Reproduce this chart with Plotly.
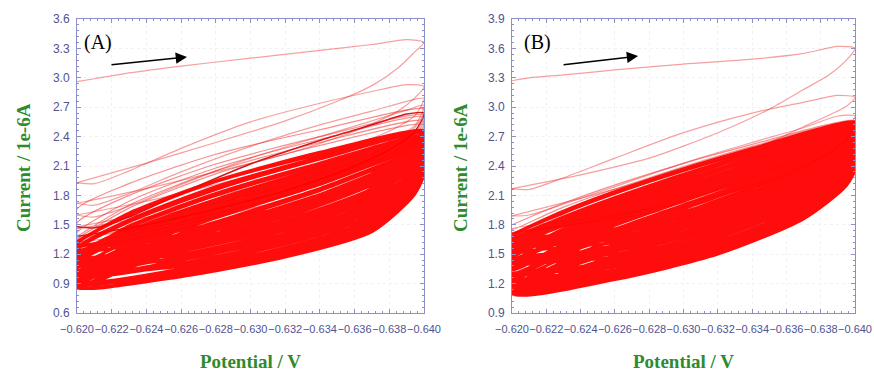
import plotly.graph_objects as go

# Potentials (V) at which each sweep is sampled
V_OUTER_FWD = [-0.620, -0.621, -0.623, -0.626, -0.630, -0.634, -0.637, -0.639, -0.640]
V_OUTER_REV = [-0.6395, -0.6385, -0.637, -0.635, -0.632, -0.628, -0.624, -0.620]
V_BAND_FWD = [-0.620, -0.623, -0.628, -0.634, -0.640]
V_BAND_REV = [-0.6395, -0.637, -0.632, -0.626, -0.620]

# ---------------- Panel A: currents in 1e-6 A ----------------
# first cycles (forward / reverse sweeps)
A_OUTER_FWD = [
    [2.96, 2.99, 3.05, 3.12, 3.20, 3.28, 3.34, 3.39, 3.36],
    [1.93, 1.92, 2.05, 2.28, 2.55, 2.74, 2.86, 2.93, 2.91],
    [1.72, 1.70, 1.82, 2.04, 2.30, 2.52, 2.66, 2.76, 2.79],
    [1.60, 1.58, 1.69, 1.91, 2.18, 2.40, 2.56, 2.67, 2.72],
    [1.48, 1.47, 1.58, 1.82, 2.12, 2.36, 2.52, 2.63, 2.64],
]
A_OUTER_REV = [
    [3.27, 3.10, 2.92, 2.76, 2.56, 2.34, 2.13, 1.93],
    [2.80, 2.66, 2.53, 2.39, 2.22, 2.04, 1.87, 1.72],
    [2.62, 2.50, 2.38, 2.25, 2.09, 1.91, 1.74, 1.60],
    [2.52, 2.40, 2.28, 2.14, 1.97, 1.79, 1.62, 1.48],
    [2.46, 2.32, 2.18, 2.03, 1.85, 1.66, 1.50, 1.38],
]
A_OUTER_STYLE = ["light", "light", "light", "light", "dark"]

# transition cycles just above the dense band
A_MID_FWD = [
    [1.38, 1.70, 2.05, 2.34, 2.56],
    [1.42, 1.74, 2.08, 2.37, 2.60],
    [1.36, 1.67, 2.02, 2.31, 2.52],
    [1.52, 1.80, 2.12, 2.40, 2.62],
    [1.66, 1.92, 2.22, 2.47, 2.68],
]
A_MID_REV = [
    [2.36, 2.08, 1.76, 1.50, 1.34],
    [2.40, 2.12, 1.80, 1.53, 1.36],
    [2.33, 2.05, 1.72, 1.46, 1.30],
    [2.44, 2.16, 1.84, 1.58, 1.40],
    [2.50, 2.22, 1.90, 1.64, 1.46],
]

# steady cycles forming the dense band
A_BAND_FWD = [
    [1.33, 1.62, 1.95, 2.24, 2.46],
    [1.20, 1.49, 1.82, 2.13, 2.40],
    [1.30, 1.60, 1.94, 2.22, 2.45],
    [1.08, 1.36, 1.68, 2.00, 2.32],
    [1.26, 1.55, 1.89, 2.19, 2.43],
    [0.94, 1.19, 1.50, 1.85, 2.21],
    [1.18, 1.47, 1.80, 2.11, 2.39],
    [1.03, 1.30, 1.62, 1.95, 2.29],
    [1.24, 1.53, 1.86, 2.17, 2.43],
    [0.88, 1.10, 1.41, 1.75, 2.12],
    [1.16, 1.44, 1.76, 2.08, 2.37],
    [1.00, 1.27, 1.59, 1.92, 2.27],
    [1.12, 1.41, 1.73, 2.05, 2.35],
    [0.92, 1.16, 1.47, 1.81, 2.18],
    [1.10, 1.38, 1.71, 2.03, 2.34],
    [0.99, 1.25, 1.57, 1.91, 2.26],
    [1.05, 1.33, 1.65, 1.98, 2.30],
    [0.87, 1.08, 1.38, 1.72, 2.09],
    [1.14, 1.43, 1.75, 2.07, 2.36],
    [0.96, 1.22, 1.53, 1.87, 2.23],
    [0.90, 1.13, 1.44, 1.78, 2.15],
    [1.01, 1.29, 1.61, 1.94, 2.28],
    [0.86, 1.06, 1.36, 1.70, 2.06],
    [0.95, 1.21, 1.52, 1.86, 2.22],
]
A_BAND_REV = [
    [2.30, 2.02, 1.69, 1.44, 1.26],
    [2.18, 1.87, 1.55, 1.30, 1.15],
    [2.26, 1.97, 1.64, 1.40, 1.22],
    [2.05, 1.73, 1.41, 1.18, 1.03],
    [2.25, 1.95, 1.62, 1.37, 1.20],
    [1.92, 1.56, 1.27, 1.05, 0.93],
    [2.16, 1.85, 1.53, 1.28, 1.12],
    [2.01, 1.68, 1.37, 1.14, 1.00],
    [2.21, 1.91, 1.58, 1.33, 1.17],
    [1.85, 1.47, 1.20, 0.99, 0.88],
    [2.12, 1.81, 1.49, 1.25, 1.10],
    [1.98, 1.65, 1.34, 1.11, 0.98],
    [2.11, 1.79, 1.47, 1.23, 1.08],
    [1.90, 1.53, 1.25, 1.03, 0.92],
    [2.07, 1.76, 1.44, 1.20, 1.06],
    [1.97, 1.63, 1.33, 1.10, 0.97],
    [2.04, 1.71, 1.40, 1.16, 1.02],
    [1.83, 1.45, 1.18, 0.98, 0.87],
    [2.14, 1.83, 1.51, 1.26, 1.11],
    [1.94, 1.59, 1.30, 1.08, 0.95],
    [1.87, 1.50, 1.22, 1.01, 0.90],
    [2.02, 1.69, 1.38, 1.15, 1.01],
    [1.82, 1.43, 1.17, 0.97, 0.86],
    [1.95, 1.60, 1.31, 1.09, 0.96],
]

# ---------------- Panel B: currents in 1e-6 A ----------------
B_OUTER_FWD = [
    [3.27, 3.30, 3.33, 3.38, 3.44, 3.49, 3.55, 3.62, 3.60],
    [2.17, 2.16, 2.28, 2.48, 2.74, 2.94, 3.05, 3.12, 3.10],
    [1.89, 1.90, 2.01, 2.19, 2.43, 2.64, 2.79, 2.91, 2.91],
]
B_OUTER_REV = [
    [3.48, 3.33, 3.18, 2.98, 2.74, 2.48, 2.31, 2.17],
    [3.01, 2.92, 2.80, 2.64, 2.45, 2.26, 2.07, 1.89],
    [2.78, 2.64, 2.50, 2.35, 2.16, 1.97, 1.82, 1.72],
]
B_OUTER_STYLE = ["light", "light", "light"]

B_MID_FWD = [
    [1.80, 2.02, 2.32, 2.62, 2.86],
    [1.75, 1.98, 2.28, 2.60, 2.85],
]
B_MID_REV = [
    [2.68, 2.40, 2.10, 1.90, 1.76],
    [2.66, 2.38, 2.06, 1.86, 1.72],
]

B_BAND_FWD = [
    [1.70, 1.94, 2.26, 2.58, 2.85],
    [1.52, 1.76, 2.08, 2.43, 2.75],
    [1.67, 1.92, 2.24, 2.56, 2.84],
    [1.37, 1.60, 1.92, 2.28, 2.64],
    [1.63, 1.88, 2.20, 2.53, 2.82],
    [1.22, 1.42, 1.72, 2.10, 2.50],
    [1.60, 1.85, 2.17, 2.51, 2.81],
    [1.31, 1.53, 1.84, 2.21, 2.58],
    [1.58, 1.82, 2.14, 2.48, 2.79],
    [1.13, 1.31, 1.60, 1.98, 2.41],
    [1.54, 1.79, 2.11, 2.46, 2.77],
    [1.28, 1.50, 1.80, 2.18, 2.56],
    [1.48, 1.73, 2.05, 2.40, 2.73],
    [1.19, 1.38, 1.68, 2.06, 2.47],
    [1.46, 1.70, 2.02, 2.38, 2.71],
    [1.34, 1.57, 1.88, 2.25, 2.61],
    [1.42, 1.66, 1.98, 2.34, 2.68],
    [1.10, 1.28, 1.57, 1.95, 2.38],
    [1.45, 1.69, 2.00, 2.36, 2.70],
    [1.25, 1.46, 1.76, 2.14, 2.53],
    [1.40, 1.63, 1.95, 2.31, 2.66],
    [1.16, 1.35, 1.64, 2.02, 2.44],
    [1.33, 1.56, 1.87, 2.23, 2.60],
    [1.21, 1.41, 1.71, 2.09, 2.49],
]
B_BAND_REV = [
    [2.70, 2.40, 2.04, 1.76, 1.62],
    [2.55, 2.22, 1.86, 1.59, 1.46],
    [2.68, 2.37, 2.01, 1.73, 1.59],
    [2.41, 2.07, 1.71, 1.44, 1.32],
    [2.65, 2.34, 1.98, 1.70, 1.56],
    [2.29, 1.94, 1.58, 1.32, 1.19],
    [2.62, 2.31, 1.95, 1.67, 1.54],
    [2.36, 2.02, 1.66, 1.39, 1.27],
    [2.60, 2.28, 1.92, 1.65, 1.51],
    [2.22, 1.88, 1.52, 1.25, 1.12],
    [2.57, 2.25, 1.89, 1.62, 1.48],
    [2.34, 1.99, 1.63, 1.37, 1.24],
    [2.52, 2.19, 1.83, 1.56, 1.43],
    [2.26, 1.92, 1.56, 1.29, 1.16],
    [2.49, 2.16, 1.80, 1.53, 1.40],
    [2.39, 2.04, 1.69, 1.42, 1.30],
    [2.46, 2.13, 1.77, 1.50, 1.37],
    [2.20, 1.86, 1.50, 1.24, 1.10],
    [2.50, 2.17, 1.81, 1.55, 1.41],
    [2.31, 1.97, 1.61, 1.34, 1.21],
    [2.44, 2.10, 1.74, 1.47, 1.35],
    [2.24, 1.90, 1.54, 1.27, 1.14],
    [2.38, 2.03, 1.68, 1.41, 1.29],
    [2.28, 1.93, 1.57, 1.31, 1.18],
]

X_TICKS = [-0.620, -0.622, -0.624, -0.626, -0.628, -0.630,
           -0.632, -0.634, -0.636, -0.638, -0.640]
A_Y_TICKS = [0.6, 0.9, 1.2, 1.5, 1.8, 2.1, 2.4, 2.7, 3.0, 3.3, 3.6]
B_Y_TICKS = [0.9, 1.2, 1.5, 1.8, 2.1, 2.4, 2.7, 3.0, 3.3, 3.6, 3.9]

RED = "rgba(255,0,0,0.95)"
PINK = "rgba(235,45,45,0.45)"
MID = "rgba(240,30,30,0.5)"
DARK = "rgba(200,0,0,0.9)"


def chain(v_fwd, v_rev, fwd_rows, rev_rows):
    """Join successive forward/reverse sweeps into one continuous scan."""
    xs, ys = [], []
    for f, r in zip(fwd_rows, rev_rows):
        xs += list(v_fwd) + list(v_rev)
        ys += list(f) + list(r)
    return xs, ys


fig = go.Figure()


def add_panel(xa, ya, outer_f, outer_r, outer_style, mid_f, mid_r, band_f, band_r):
    for f, r, st in zip(outer_f, outer_r, outer_style):
        col, w = (DARK, 1.5) if st == "dark" else (PINK, 1.2)
        x, y = chain(V_OUTER_FWD, V_OUTER_REV, [f], [r])
        fig.add_trace(go.Scatter(x=x, y=y, mode="lines", xaxis=xa, yaxis=ya,
                                 line=dict(color=col, width=w, shape="spline", smoothing=0.7),
                                 hoverinfo="skip"))
    x, y = chain(V_BAND_FWD, V_BAND_REV, mid_f, mid_r)
    fig.add_trace(go.Scatter(x=x, y=y, mode="lines", xaxis=xa, yaxis=ya,
                             line=dict(color=MID, width=1.2, shape="spline", smoothing=0.7),
                             hoverinfo="skip"))
    x, y = chain(V_BAND_FWD, V_BAND_REV, band_f, band_r)
    fig.add_trace(go.Scatter(x=x, y=y, mode="lines", xaxis=xa, yaxis=ya,
                             line=dict(color=RED, width=2.9, shape="spline", smoothing=0.7),
                             hoverinfo="skip"))


add_panel("x", "y", A_OUTER_FWD, A_OUTER_REV, A_OUTER_STYLE, A_MID_FWD, A_MID_REV,
          A_BAND_FWD, A_BAND_REV)
add_panel("x2", "y2", B_OUTER_FWD, B_OUTER_REV, B_OUTER_STYLE, B_MID_FWD, B_MID_REV,
          B_BAND_FWD, B_BAND_REV)

AX_COL = "#8d90c8"
TICK_FONT = dict(family="Liberation Sans, Arial", size=11, color="#4f5390")
common = dict(showline=True, linecolor=AX_COL, linewidth=1, mirror="allticks",
              ticks="inside", ticklen=4, tickcolor=AX_COL, zeroline=False,
              showgrid=True, gridcolor="#f1f1f7", griddash="dot", gridwidth=1,
              tickfont=TICK_FONT, automargin=False)

xdef = dict(common, range=[-0.620, -0.640], tickvals=X_TICKS, tickformat=".3f",
            tickangle=0, ticklabelstandoff=6,
            minor=dict(ticks="inside", ticklen=2, tickcolor=AX_COL, dtick=0.0004,
                       tick0=-0.620, showgrid=False))

H, W = 372, 874
ydom = [1 - 313 / H, 1 - 19 / H]

ydef = dict(common, tickformat=".1f", tickfont=dict(TICK_FONT, size=12),
            ticklabelstandoff=4)

fig.update_layout(
    width=W, height=H, margin=dict(l=0, r=0, t=0, b=0, autoexpand=False),
    paper_bgcolor="white", plot_bgcolor="white", showlegend=False,
    xaxis=dict(xdef, domain=[77 / W, 424 / W], anchor="y"),
    yaxis=dict(ydef, domain=ydom, anchor="x", range=[0.6, 3.6], tickvals=A_Y_TICKS,
               minor=dict(ticks="inside", ticklen=2, tickcolor=AX_COL, dtick=0.06,
                          tick0=0.6, showgrid=False)),
    xaxis2=dict(xdef, domain=[512 / W, 855 / W], anchor="y2"),
    yaxis2=dict(ydef, domain=ydom, anchor="x2", range=[0.9, 3.9], tickvals=B_Y_TICKS,
                minor=dict(ticks="inside", ticklen=2, tickcolor=AX_COL, dtick=0.06,
                           tick0=0.9, showgrid=False)),
)

GREEN = "#2e8b2e"
TITLE_FONT = dict(family="Liberation Serif, Times New Roman", size=19, color=GREEN)
LABEL_FONT = dict(family="Liberation Serif, Times New Roman", size=20, color="black")

ann = []
for cx in [250.5, 683.5]:
    ann.append(dict(text="<b>Potential / V</b>", xref="paper", yref="paper",
                    x=cx / W, y=1 - 361 / H, xanchor="center", yanchor="middle",
                    showarrow=False, font=TITLE_FONT))
for tx in [23, 460]:
    ann.append(dict(text="<b>Current / 1e-6A</b>", xref="paper", yref="paper",
                    x=tx / W, y=1 - 168 / H, xanchor="center", yanchor="middle",
                    textangle=-90, showarrow=False, font=TITLE_FONT))
ann.append(dict(text="(A)", xref="paper", yref="paper", x=97.5 / W, y=1 - 42 / H,
                xanchor="center", yanchor="middle", showarrow=False, font=LABEL_FONT))
ann.append(dict(text="(B)", xref="paper", yref="paper", x=537.5 / W, y=1 - 42 / H,
                xanchor="center", yanchor="middle", showarrow=False, font=LABEL_FONT))
# scan direction arrows
ann.append(dict(x=-0.62634, y=3.212, ax=-0.62190, ay=3.131, xref="x", yref="y",
                axref="x", ayref="y", text="", showarrow=True, arrowhead=2,
                arrowsize=1.5, arrowwidth=1.5, arrowcolor="black"))
ann.append(dict(x=-0.62735, y=3.522, ax=-0.62292, ay=3.431, xref="x2", yref="y2",
                axref="x2", ayref="y2", text="", showarrow=True, arrowhead=2,
                arrowsize=1.5, arrowwidth=1.5, arrowcolor="black"))
fig.update_layout(annotations=ann)

fig.write_html("out.html")
